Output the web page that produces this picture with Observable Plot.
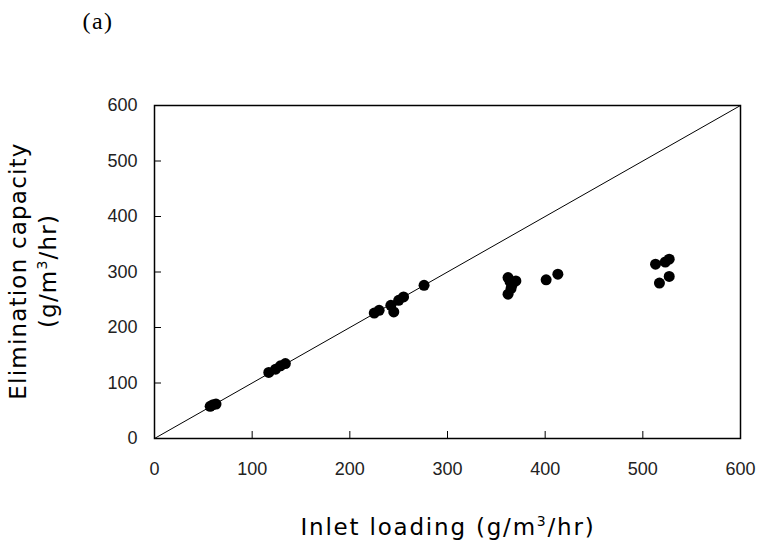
<!DOCTYPE html>
<html><head><meta charset="utf-8">
<script src="https://cdn.jsdelivr.net/npm/d3@7"></script>
<script src="https://cdn.jsdelivr.net/npm/@observablehq/plot@0.6"></script>
<style>body{margin:0;background:#fff}</style>
</head><body><div id="chart"></div>
<script>
const inletLoading = [57,60,63, 117,124,129,134, 225,230,242,245,250,255,276, 362,364,366,370,362,365, 401,413, 513,523,527,517,527];
const eliminationCapacity = [58,61,62, 119,125,131,135, 226,231,240,228,249,255,276, 290,283,276,284,260,270, 286,296, 314,318,323,280,292];
const xTicks = [0,100,200,300,400,500,600];
const yTicks = [0,100,200,300,400,500,600];
const diagonal = [0,600];

const points = inletLoading.map((x,i)=>({x, y: eliminationCapacity[i]}));

const chart = Plot.plot({
  width: 760, height: 546,
  marginLeft: 154, marginRight: 20, marginTop: 105, marginBottom: 108,
  style: {fontFamily: "Liberation Sans, Arial, sans-serif", fontSize: "18px", background: "#fff"},
  x: {domain: [0,600]},
  y: {domain: [0,600]},
  marks: [
    Plot.line(diagonal, {x: d=>d, y: d=>d, stroke: "#000", strokeWidth: 1}),
    Plot.dot(points, {x: "x", y: "y", r: 5.5, fill: "#000", stroke: "none"}),
    Plot.axisX({ticks: xTicks, tickSize: -7, tickPadding: 31, label: null, fill: "#222", stroke: "#000", strokeWidth: 1}),
    Plot.axisY({ticks: yTicks, tickSize: -7, tickPadding: 24, label: null, fill: "#222", stroke: "#000", strokeWidth: 1}),
    Plot.frame({stroke: "#000", strokeWidth: 1.5})
  ]
});
document.getElementById("chart").appendChild(chart);

const svg = d3.select(chart);
svg.append("text").attr("x", 98).attr("y", 29)
  .attr("font-family", "Liberation Serif, serif").attr("font-size", 24).attr("letter-spacing", 1.5).attr("fill", "#000").text("(a)");

const lab = svg.append("text").attr("x", 448).attr("y", 535).attr("text-anchor", "middle")
  .attr("font-family", "DejaVu Sans, sans-serif").attr("font-size", 23).attr("letter-spacing", 1.8).attr("fill", "#000");
lab.append("tspan").text("Inlet loading (g/m");
lab.append("tspan").attr("font-size", 14).attr("dy", -9).text("3");
lab.append("tspan").attr("dy", 9).text("/hr)");

const g = svg.append("g").attr("transform", "translate(0,271) rotate(-90)")
  .attr("font-family", "DejaVu Sans, sans-serif").attr("font-size", 23).attr("letter-spacing", 1.2).attr("fill", "#000").attr("text-anchor", "middle");
g.append("text").attr("x", 0).attr("y", 26).text("Elimination capacity");
const l2 = g.append("text").attr("x", 0).attr("y", 56);
l2.append("tspan").text("(g/m");
l2.append("tspan").attr("font-size", 14).attr("dy", -9).text("3");
l2.append("tspan").attr("dy", 9).text("/hr)");
</script>
</body></html>
